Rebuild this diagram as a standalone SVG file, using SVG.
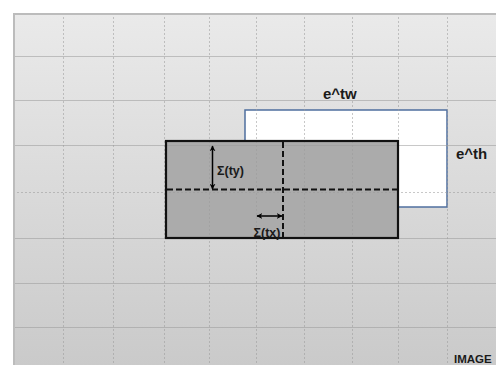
<svg xmlns="http://www.w3.org/2000/svg" width="496" height="365" viewBox="0 0 496 365">
  <defs>
    <linearGradient id="bg" x1="0" y1="0" x2="0" y2="1">
      <stop offset="0" stop-color="#eaeaea"/>
      <stop offset="1" stop-color="#cacaca"/>
    </linearGradient>
    <marker id="ah" viewBox="0 0 10 10" refX="9" refY="5" markerWidth="4" markerHeight="4" orient="auto-start-reverse" markerUnits="strokeWidth">
      <path d="M0,0 L10,5 L0,10 L3,5 Z" fill="#000"/>
    </marker>
    <style>
      .solid { stroke: #9a9a9a; stroke-opacity: 0.55; stroke-width: 1; fill: none; }
      .dot { stroke: #9a9a9a; stroke-opacity: 0.55; stroke-width: 1; stroke-dasharray: 2 2; fill: none; }
      .dash { stroke: #111; stroke-width: 2; stroke-dasharray: 6 3; fill: none; }
      .arrow { stroke: #000; stroke-width: 1.5; fill: none; marker-start: url(#ah); marker-end: url(#ah); }
      .lbl { font-family: "Liberation Sans", Arial, sans-serif; font-weight: bold; fill: #1a1a1a; }
    </style>
  </defs>

  <rect x="0" y="0" width="496" height="365" fill="#ffffff"/>
  <rect x="13" y="13" width="483" height="352" fill="url(#bg)"/>

  <g id="anchor-box">
    <rect x="245" y="110" width="202" height="97" fill="#ffffff" stroke="#4f6f9f" stroke-width="1.5"/>
  </g>
  <g id="predicted-box-fill">
    <rect x="166" y="141" width="232" height="97" fill="#ababab"/>
  </g>

  <g id="grid">
    <line class="solid" x1="13" y1="56.5" x2="496" y2="56.5"/>
    <line class="solid" x1="13" y1="100.5" x2="496" y2="100.5"/>
    <line class="solid" x1="13" y1="145.5" x2="496" y2="145.5"/>
    <line class="dot" x1="13" y1="192.5" x2="496" y2="192.5"/>
    <line class="solid" x1="13" y1="238.5" x2="496" y2="238.5"/>
    <line class="solid" x1="13" y1="283.5" x2="496" y2="283.5"/>
    <line class="solid" x1="13" y1="327.5" x2="496" y2="327.5"/>
    <line class="dot" x1="63.5" y1="13" x2="63.5" y2="365"/>
    <line class="dot" x1="113.5" y1="13" x2="113.5" y2="365"/>
    <line class="dot" x1="164.5" y1="13" x2="164.5" y2="365"/>
    <line class="dot" x1="209.5" y1="13" x2="209.5" y2="365"/>
    <line class="dot" x1="256.5" y1="13" x2="256.5" y2="365"/>
    <line class="dot" x1="304.5" y1="13" x2="304.5" y2="365"/>
    <line class="dot" x1="352.5" y1="13" x2="352.5" y2="365"/>
    <line class="dot" x1="398.5" y1="13" x2="398.5" y2="365"/>
    <line class="dot" x1="447.5" y1="13" x2="447.5" y2="365"/>
    <line x1="13" y1="14" x2="496" y2="14" stroke="#bcbcbc" stroke-width="2"/>
    <line x1="14" y1="13" x2="14" y2="365" stroke="#bcbcbc" stroke-width="2"/>
  </g>

  <g id="predicted-box">
    <rect x="166" y="141" width="232" height="97" fill="none" stroke="#111" stroke-width="2.2"/>
  </g>

  <g id="connectors">
    <line class="dash" x1="167" y1="189.5" x2="397" y2="189.5"/>
    <line class="dash" x1="283" y1="142" x2="283" y2="237"/>
    <line class="arrow" x1="212.5" y1="146" x2="212.5" y2="189"/>
    <line class="arrow" x1="257" y1="216" x2="282" y2="216"/>
  </g>

  <g id="labels">
    <text class="lbl" x="217" y="174.5" font-size="12.5">Σ(ty)</text>
    <text class="lbl" x="253.5" y="236.5" font-size="12.5">Σ(tx)</text>
    <text class="lbl" x="323" y="99" font-size="15">e^tw</text>
    <text class="lbl" x="456" y="159" font-size="15">e^th</text>
    <text class="lbl" x="454" y="362.5" font-size="11.5">IMAGE</text>
  </g>
</svg>
